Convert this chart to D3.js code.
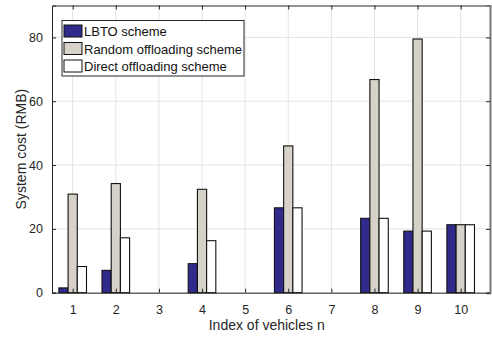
<!DOCTYPE html>
<html>
<head>
<meta charset="utf-8">
<script src="https://cdn.jsdelivr.net/npm/d3@7"></script>
<style>
  body { margin: 0; background: #fff; }
  svg { display: block; font-family: "Liberation Sans", Arial, sans-serif; }
</style>
</head>
<body>
<div id="chart"></div>
<script>
// data
let vehicles = [1, 2, 3, 4, 5, 6, 7, 8, 9, 10];
let lbto = [1.5, 7.0, 0, 9.1, 0, 26.6, 0, 23.3, 19.3, 21.3];
let random_off = [30.9, 34.2, 0, 32.4, 0, 46.0, 0, 66.8, 79.5, 21.3];
let direct_off = [8.2, 17.2, 0, 16.3, 0, 26.6, 0, 23.3, 19.3, 21.3];
let y_ticks = [0, 20, 40, 60, 80];
let series_names = ["LBTO scheme", "Random offloading scheme", "Direct offloading scheme"];
let series_colors = ["#2f2a8c", "#d6d1c9", "#ffffff"];

let chart_width = 492;
let chart_height = 337;
let m = { left: 52, right: 2, top: 5.5, bottom: 44.3 };
let w = chart_width - m.left - m.right;
let h = chart_height - m.top - m.bottom;

let svg = d3.select("#chart").append("svg")
  .attr("width", chart_width)
  .attr("height", chart_height);

let g = svg.append("g").attr("transform", "translate(" + m.left + "," + m.top + ")");

let x = d3.scaleLinear().domain([0.52, 10.68]).range([0, w]);
let y = d3.scaleLinear().domain([0, 90]).range([h, 0]);

//grid
g.append("g").selectAll("line").data(vehicles).enter().append("line")
  .attr("x1", d => x(d)).attr("x2", d => x(d))
  .attr("y1", 0).attr("y2", h)
  .attr("stroke", "#e3e3e3");
g.append("g").selectAll("line").data(y_ticks).enter().append("line")
  .attr("x1", 0).attr("x2", w)
  .attr("y1", d => y(d)).attr("y2", d => y(d))
  .attr("stroke", "#e3e3e3");

//bars
let bar_w = 9.2;
let all_series = [lbto, random_off, direct_off];
all_series.forEach(function (vals, si) {
  g.append("g").selectAll("rect").data(vals).enter().append("rect")
    .attr("x", (d, i) => x(vehicles[i]) + (si - 1) * bar_w - bar_w / 2)
    .attr("y", d => y(d))
    .attr("width", bar_w)
    .attr("height", d => y(0) - y(d))
    .attr("fill", series_colors[si])
    .attr("stroke", "#111")
    .attr("stroke-width", 1.1);
});

//axes
let ax_color = "#262626";
let xb = g.append("g").attr("transform", "translate(0," + h + ")")
  .call(d3.axisBottom(x).tickValues(vehicles).tickSize(-4).tickPadding(12).tickFormat(d3.format("d")));
let xt = g.append("g")
  .call(d3.axisTop(x).tickValues(vehicles).tickSize(-4).tickFormat(""));
let yl = g.append("g")
  .call(d3.axisLeft(y).tickValues(y_ticks).tickSize(-4).tickPadding(9));
let yr = g.append("g").attr("transform", "translate(" + w + ",0)")
  .call(d3.axisRight(y).tickValues(y_ticks).tickSize(-4).tickFormat(""));

[xb, xt, yl, yr].forEach(function (a) {
  a.select(".domain").attr("stroke", ax_color);
  a.selectAll(".tick line").attr("stroke", ax_color);
  a.selectAll(".tick text").attr("fill", ax_color).style("font-size", "12.5px");
});
yr.select(".domain").attr("stroke", "#777").attr("stroke-width", 2);

//axis titles
svg.append("text")
  .attr("x", m.left + x(5.5)).attr("y", 330)
  .attr("text-anchor", "middle")
  .attr("fill", ax_color)
  .style("font-size", "14px")
  .text("Index of vehicles n");
svg.append("text")
  .attr("transform", "translate(26," + (m.top + h / 2) + ") rotate(-90)")
  .attr("text-anchor", "middle")
  .attr("fill", ax_color)
  .style("font-size", "14px")
  .text("System cost (RMB)");

//legend
let lg = svg.append("g").attr("transform", "translate(62,20.5)");
lg.append("rect")
  .attr("width", 182).attr("height", 55.5)
  .attr("fill", "#fff").attr("stroke", ax_color);
series_names.forEach(function (name, i) {
  lg.append("rect")
    .attr("x", 2).attr("y", 4.5 + i * 17.5)
    .attr("width", 18).attr("height", 12)
    .attr("fill", series_colors[i]).attr("stroke", "#111");
  lg.append("text")
    .attr("x", 22).attr("y", 15.5 + i * 17.5)
    .attr("fill", "#111")
    .style("font-size", "13px")
    .text(name);
});
</script>
</body>
</html>
